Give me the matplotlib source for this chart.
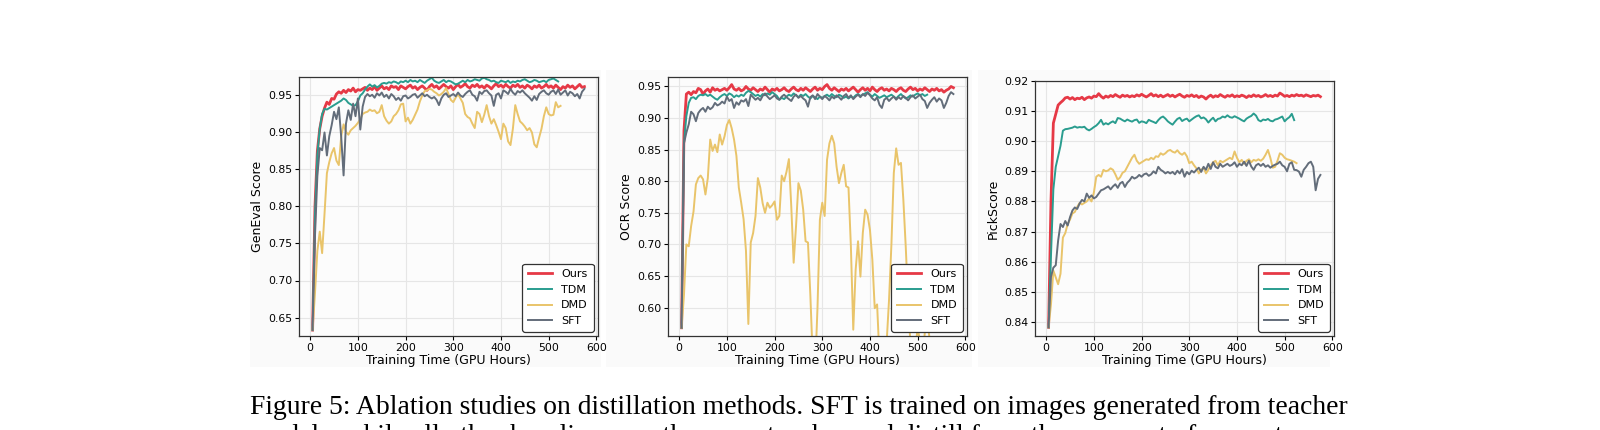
import numpy as np
import matplotlib
matplotlib.use("Agg")
import matplotlib.pyplot as plt
from matplotlib.patches import Rectangle

# training time in GPU hours (shared grid, shorter runs use the first part)
hours = list(range(5, 580, 5))

# --- GenEval ---
geneval_ours = [
    0.633, 0.800, 0.875, 0.905, 0.922, 0.933, 0.941, 0.938, 0.946, 0.945,
    0.952, 0.955, 0.953, 0.957, 0.954, 0.958, 0.956, 0.960, 0.955, 0.958,
    0.957, 0.959, 0.961, 0.957, 0.960, 0.958, 0.962, 0.957, 0.960, 0.963,
    0.959, 0.961, 0.958, 0.963, 0.961, 0.962, 0.958, 0.963, 0.961, 0.959,
    0.962, 0.964, 0.960, 0.962, 0.958, 0.961, 0.963, 0.960, 0.957, 0.962,
    0.965, 0.961, 0.963, 0.959, 0.962, 0.965, 0.962, 0.960, 0.963, 0.958,
    0.962, 0.965, 0.961, 0.963, 0.966, 0.962, 0.960, 0.964, 0.962, 0.965,
    0.961, 0.963, 0.960, 0.964, 0.962, 0.959, 0.963, 0.966, 0.962, 0.964,
    0.961, 0.965, 0.962, 0.960, 0.964, 0.962, 0.965, 0.961, 0.963, 0.960,
    0.964, 0.962, 0.959, 0.963, 0.961, 0.964, 0.960, 0.962, 0.965, 0.961,
    0.963, 0.960, 0.964, 0.961, 0.958, 0.962, 0.960, 0.964, 0.961, 0.963,
    0.959, 0.962, 0.965, 0.961, 0.962,
]
geneval_tdm = [
    0.633, 0.790, 0.870, 0.905, 0.925, 0.932, 0.931, 0.933, 0.935, 0.937,
    0.939, 0.941, 0.943, 0.946, 0.944, 0.940, 0.938, 0.936, 0.937, 0.942,
    0.950, 0.953, 0.958, 0.962, 0.965, 0.962, 0.964, 0.961, 0.963, 0.966,
    0.967, 0.966, 0.968, 0.967, 0.969, 0.968, 0.966, 0.969, 0.968, 0.970,
    0.968, 0.971, 0.969, 0.970, 0.968, 0.971, 0.969, 0.967, 0.970, 0.972,
    0.974, 0.970, 0.968, 0.967, 0.969, 0.971, 0.968, 0.970, 0.969, 0.967,
    0.965, 0.966, 0.968, 0.970, 0.968, 0.971, 0.969, 0.970, 0.972, 0.971,
    0.970, 0.973, 0.974, 0.972, 0.971, 0.969, 0.970, 0.968, 0.967, 0.970,
    0.969, 0.968, 0.970, 0.967, 0.969, 0.968, 0.970, 0.969, 0.971, 0.972,
    0.970, 0.968, 0.969, 0.971, 0.970, 0.968, 0.969, 0.970, 0.968, 0.971,
    0.972, 0.973, 0.971, 0.969,
]
geneval_dmd = [
    0.633, 0.683, 0.740, 0.766, 0.737, 0.790, 0.845, 0.860, 0.872, 0.879,
    0.862, 0.856, 0.895, 0.911, 0.901, 0.897, 0.903, 0.906, 0.909, 0.913,
    0.918, 0.925, 0.927, 0.928, 0.931, 0.929, 0.930, 0.926, 0.928, 0.937,
    0.922, 0.916, 0.912, 0.915, 0.922, 0.925, 0.930, 0.938, 0.939, 0.915,
    0.920, 0.912, 0.917, 0.924, 0.931, 0.942, 0.950, 0.956, 0.957, 0.959,
    0.958, 0.955, 0.953, 0.950, 0.952, 0.955, 0.960, 0.952, 0.944, 0.941,
    0.947, 0.952, 0.946, 0.940, 0.925, 0.921, 0.919, 0.912, 0.906, 0.928,
    0.925, 0.914, 0.924, 0.937, 0.922, 0.912, 0.918, 0.910, 0.901, 0.891,
    0.912, 0.906, 0.888, 0.883, 0.905, 0.937, 0.925, 0.915, 0.912, 0.908,
    0.903, 0.906, 0.900, 0.884, 0.880, 0.893, 0.905, 0.922, 0.934, 0.925,
    0.923, 0.924, 0.941, 0.934, 0.936,
]
geneval_sft = [
    0.633, 0.760, 0.841, 0.879, 0.876, 0.900, 0.869, 0.895, 0.910, 0.928,
    0.918, 0.934, 0.894, 0.842, 0.912, 0.930, 0.917, 0.939, 0.922, 0.946,
    0.904, 0.935, 0.948, 0.952, 0.949, 0.951, 0.947, 0.953, 0.950, 0.954,
    0.948, 0.951, 0.946, 0.952, 0.949, 0.944, 0.947, 0.943, 0.949, 0.950,
    0.946, 0.948, 0.951, 0.952, 0.947, 0.950, 0.953, 0.949, 0.951, 0.948,
    0.946, 0.948, 0.944, 0.937, 0.946, 0.951, 0.953, 0.948, 0.950, 0.952,
    0.949, 0.954, 0.950, 0.948, 0.952, 0.955, 0.957, 0.951, 0.949, 0.943,
    0.955, 0.952, 0.956, 0.957, 0.953, 0.950, 0.936, 0.951, 0.953, 0.946,
    0.957, 0.955, 0.952, 0.959, 0.954, 0.951, 0.956, 0.954, 0.957, 0.953,
    0.950, 0.947, 0.943, 0.949, 0.944, 0.952, 0.955, 0.957, 0.953, 0.951,
    0.955, 0.957, 0.952, 0.958, 0.951, 0.954, 0.957, 0.950, 0.955, 0.953,
    0.949, 0.952, 0.946, 0.955, 0.959,
]

# --- OCR ---
ocr_ours = [
    0.568, 0.880, 0.938, 0.941, 0.937, 0.942, 0.940, 0.947, 0.945, 0.938,
    0.943, 0.946, 0.941, 0.948, 0.944, 0.946, 0.943, 0.945, 0.947, 0.944,
    0.948, 0.953, 0.946, 0.944, 0.947, 0.943, 0.945, 0.950, 0.946, 0.944,
    0.948, 0.945, 0.942, 0.946, 0.944, 0.949, 0.945, 0.941, 0.946, 0.944,
    0.947, 0.943, 0.945, 0.948, 0.944, 0.942, 0.946, 0.949, 0.945, 0.943,
    0.947, 0.944, 0.948, 0.945, 0.942, 0.946, 0.949, 0.944, 0.947, 0.945,
    0.950, 0.953, 0.947, 0.944, 0.948, 0.945, 0.942, 0.946, 0.944, 0.947,
    0.943, 0.946, 0.949, 0.945, 0.941, 0.945, 0.948, 0.944, 0.947, 0.943,
    0.949, 0.945, 0.942, 0.946, 0.948, 0.944, 0.946, 0.943, 0.947, 0.945,
    0.942, 0.946, 0.948, 0.944, 0.942, 0.946, 0.949, 0.945, 0.947, 0.943,
    0.946, 0.944, 0.948, 0.945, 0.942, 0.946, 0.944, 0.947, 0.943, 0.945,
    0.941, 0.944, 0.946, 0.950, 0.948,
]
ocr_tdm = [
    0.568, 0.860, 0.903, 0.924, 0.932, 0.933, 0.930, 0.935, 0.937, 0.936,
    0.938, 0.935, 0.937, 0.934, 0.931, 0.929, 0.933, 0.936, 0.938, 0.935,
    0.939, 0.937, 0.933, 0.936, 0.934, 0.937, 0.935, 0.940, 0.943, 0.941,
    0.938, 0.935, 0.937, 0.934, 0.938, 0.936, 0.939, 0.937, 0.941, 0.938,
    0.935, 0.929, 0.932, 0.930, 0.934, 0.937, 0.935, 0.939, 0.936, 0.933,
    0.937, 0.935, 0.938, 0.934, 0.931, 0.935, 0.933, 0.930, 0.934, 0.932,
    0.935, 0.937, 0.934, 0.938, 0.935, 0.933, 0.937, 0.935, 0.932, 0.934,
    0.931, 0.934, 0.932, 0.936, 0.938, 0.935, 0.937, 0.939, 0.941, 0.937,
    0.934, 0.938, 0.935, 0.932, 0.934, 0.936, 0.933, 0.935, 0.937, 0.934,
    0.931, 0.935, 0.938, 0.934, 0.931, 0.933, 0.936, 0.934, 0.937, 0.939,
    0.936, 0.938, 0.935, 0.937,
]
ocr_dmd = [
    0.568, 0.620, 0.700, 0.697, 0.729, 0.752, 0.795, 0.805, 0.809, 0.803,
    0.779, 0.805, 0.866, 0.848, 0.858, 0.846, 0.874, 0.858, 0.871, 0.889,
    0.897, 0.884, 0.866, 0.840, 0.790, 0.766, 0.740, 0.690, 0.574, 0.703,
    0.718, 0.745, 0.805, 0.790, 0.765, 0.750, 0.766, 0.758, 0.762, 0.768,
    0.739, 0.745, 0.809, 0.800, 0.815, 0.835, 0.760, 0.671, 0.729, 0.797,
    0.785, 0.755, 0.705, 0.703, 0.620, 0.520, 0.500, 0.600, 0.739, 0.766,
    0.745, 0.834, 0.860, 0.872, 0.860, 0.823, 0.797, 0.813, 0.826, 0.792,
    0.790, 0.697, 0.565, 0.660, 0.705, 0.649, 0.718, 0.755, 0.747, 0.723,
    0.676, 0.599, 0.605, 0.520, 0.480, 0.500, 0.545, 0.612, 0.700, 0.813,
    0.852, 0.826, 0.829, 0.771, 0.697, 0.612, 0.540, 0.500, 0.530, 0.570,
    0.545, 0.520, 0.560, 0.585, 0.550,
]
ocr_sft = [
    0.568, 0.860, 0.877, 0.890, 0.910, 0.906, 0.895, 0.908, 0.913, 0.916,
    0.910, 0.918, 0.914, 0.917, 0.924, 0.920, 0.922, 0.926, 0.923, 0.934,
    0.927, 0.930, 0.916, 0.925, 0.921, 0.928, 0.926, 0.930, 0.919, 0.937,
    0.933, 0.929, 0.932, 0.928, 0.935, 0.939, 0.934, 0.930, 0.933, 0.936,
    0.931, 0.929, 0.934, 0.937, 0.933, 0.930, 0.927, 0.934, 0.937, 0.932,
    0.935, 0.931, 0.928, 0.918, 0.933, 0.936, 0.930, 0.938, 0.934, 0.930,
    0.935, 0.932, 0.928, 0.934, 0.931, 0.936, 0.933, 0.929, 0.935, 0.938,
    0.932, 0.936, 0.930, 0.934, 0.937, 0.933, 0.938, 0.935, 0.940, 0.936,
    0.931, 0.928, 0.933, 0.921, 0.916, 0.929, 0.932, 0.927, 0.931, 0.934,
    0.929, 0.933, 0.930, 0.935, 0.932, 0.928, 0.933, 0.936, 0.931, 0.934,
    0.937, 0.930, 0.927, 0.916, 0.924, 0.929, 0.933, 0.926, 0.931, 0.928,
    0.916, 0.924, 0.935, 0.941, 0.938,
]

# --- PickScore ---
pick_ours = [
    0.8382, 0.8800, 0.9060, 0.9090, 0.9120, 0.9128, 0.9135, 0.9144, 0.9146, 0.9140,
    0.9145, 0.9138, 0.9143, 0.9141, 0.9146, 0.9138, 0.9144, 0.9147, 0.9143, 0.9150,
    0.9148, 0.9158, 0.9149, 0.9143, 0.9150, 0.9146, 0.9152, 0.9148, 0.9155, 0.9150,
    0.9146, 0.9153, 0.9149, 0.9152, 0.9147, 0.9151, 0.9148, 0.9154, 0.9150, 0.9156,
    0.9151, 0.9147, 0.9152, 0.9158, 0.9150, 0.9154, 0.9148, 0.9153, 0.9147, 0.9151,
    0.9155, 0.9149, 0.9153, 0.9147, 0.9152, 0.9156, 0.9150, 0.9146, 0.9152, 0.9149,
    0.9154, 0.9148, 0.9152, 0.9145, 0.9150, 0.9147, 0.9140, 0.9148, 0.9153, 0.9146,
    0.9151, 0.9148, 0.9155, 0.9150, 0.9146, 0.9152, 0.9149, 0.9154, 0.9147, 0.9151,
    0.9148, 0.9153, 0.9150, 0.9145, 0.9151, 0.9148, 0.9154, 0.9149, 0.9152, 0.9147,
    0.9150, 0.9155, 0.9149, 0.9152, 0.9148, 0.9153, 0.9150, 0.9160, 0.9155, 0.9149,
    0.9152, 0.9148, 0.9153, 0.9150, 0.9155, 0.9151, 0.9153, 0.9149, 0.9154, 0.9151,
    0.9148, 0.9152, 0.9150, 0.9153, 0.9148,
]
pick_tdm = [
    0.8382, 0.8620, 0.8840, 0.8915, 0.8950, 0.8985, 0.9035, 0.9040, 0.9041, 0.9043,
    0.9045, 0.9049, 0.9045, 0.9047, 0.9046, 0.9048, 0.9040, 0.9036, 0.9041, 0.9047,
    0.9052, 0.9060, 0.9071, 0.9055, 0.9060, 0.9056, 0.9062, 0.9066, 0.9060, 0.9077,
    0.9075, 0.9070, 0.9066, 0.9072, 0.9068, 0.9065, 0.9070, 0.9072, 0.9061, 0.9066,
    0.9064, 0.9060, 0.9071, 0.9067, 0.9064, 0.9060, 0.9070, 0.9078, 0.9082, 0.9075,
    0.9066, 0.9060, 0.9055, 0.9065, 0.9074, 0.9078, 0.9067, 0.9072, 0.9075, 0.9066,
    0.9072, 0.9078, 0.9083, 0.9086, 0.9076, 0.9079, 0.9073, 0.9062, 0.9071, 0.9078,
    0.9066, 0.9074, 0.9076, 0.9082, 0.9079, 0.9086, 0.9080, 0.9078, 0.9083, 0.9079,
    0.9075, 0.9070, 0.9066, 0.9075, 0.9080, 0.9084, 0.9092, 0.9085, 0.9070, 0.9066,
    0.9072, 0.9070, 0.9074, 0.9068, 0.9066, 0.9072, 0.9074, 0.9078, 0.9082, 0.9066,
    0.9074, 0.9080, 0.9091, 0.9070,
]
pick_dmd = [
    0.8382, 0.8458, 0.8570, 0.8548, 0.8525, 0.8560, 0.8680, 0.8695, 0.8725, 0.8740,
    0.8760, 0.8765, 0.8782, 0.8795, 0.8790, 0.8795, 0.8800, 0.8810, 0.8800, 0.8830,
    0.8882, 0.8888, 0.8882, 0.8905, 0.8900, 0.8903, 0.8910, 0.8905, 0.8890, 0.8872,
    0.8880, 0.8895, 0.8900, 0.8915, 0.8930, 0.8945, 0.8955, 0.8935, 0.8925, 0.8930,
    0.8935, 0.8940, 0.8938, 0.8945, 0.8940, 0.8950, 0.8948, 0.8960, 0.8955, 0.8960,
    0.8968, 0.8971, 0.8965, 0.8962, 0.8970, 0.8960, 0.8955, 0.8962, 0.8950, 0.8927,
    0.8932, 0.8920, 0.8910, 0.8893, 0.8905, 0.8912, 0.8893, 0.8905, 0.8920, 0.8930,
    0.8935, 0.8920, 0.8935, 0.8930, 0.8935, 0.8940, 0.8945, 0.8940, 0.8966, 0.8945,
    0.8930, 0.8938, 0.8925, 0.8935, 0.8940, 0.8930, 0.8938, 0.8935, 0.8940, 0.8935,
    0.8942, 0.8955, 0.8971, 0.8945, 0.8912, 0.8915, 0.8935, 0.8960, 0.8955, 0.8945,
    0.8940, 0.8938, 0.8935, 0.8932, 0.8927,
]
pick_sft = [
    0.8382, 0.8550, 0.8580, 0.8588, 0.8670, 0.8725, 0.8715, 0.8735, 0.8720, 0.8748,
    0.8770, 0.8780, 0.8775, 0.8793, 0.8805, 0.8800, 0.8826, 0.8812, 0.8820, 0.8810,
    0.8815, 0.8826, 0.8837, 0.8840, 0.8845, 0.8850, 0.8840, 0.8850, 0.8857, 0.8845,
    0.8860, 0.8865, 0.8848, 0.8862, 0.8870, 0.8882, 0.8876, 0.8880, 0.8888, 0.8882,
    0.8890, 0.8893, 0.8885, 0.8890, 0.8900, 0.8893, 0.8915, 0.8905, 0.8900, 0.8893,
    0.8898, 0.8893, 0.8898, 0.8890, 0.8902, 0.8893, 0.8907, 0.8882, 0.8898, 0.8890,
    0.8902, 0.8896, 0.8905, 0.8912, 0.8898, 0.8915, 0.8905, 0.8925, 0.8908, 0.8930,
    0.8915, 0.8910, 0.8925, 0.8915, 0.8920, 0.8925, 0.8918, 0.8922, 0.8930, 0.8915,
    0.8925, 0.8920, 0.8932, 0.8918, 0.8935, 0.8916, 0.8905, 0.8920, 0.8925, 0.8918,
    0.8925, 0.8915, 0.8920, 0.8912, 0.8918, 0.8922, 0.8925, 0.8932, 0.8920, 0.8915,
    0.8900, 0.8925, 0.8930, 0.8905, 0.8904, 0.8899, 0.8882, 0.8905, 0.8915, 0.8927,
    0.8932, 0.8915, 0.8837, 0.8875, 0.8888,
]

methods = ["Ours", "TDM", "DMD", "SFT"]
colors = {"Ours": "#e63946", "TDM": "#2a9d8f", "DMD": "#e9c46a", "SFT": "#636d7a"}
widths = {"Ours": 2.0, "TDM": 1.4, "DMD": 1.4, "SFT": 1.4}

panels = [
    ("GenEval Score", [geneval_ours, geneval_tdm, geneval_dmd, geneval_sft],
     (0.625, 0.975), np.arange(0.65, 0.951, 0.05)),
    ("OCR Score", [ocr_ours, ocr_tdm, ocr_dmd, ocr_sft],
     (0.555, 0.965), np.arange(0.60, 0.951, 0.05)),
    ("PickScore", [pick_ours, pick_tdm, pick_dmd, pick_sft],
     (0.8353, 0.92), np.arange(0.84, 0.9201, 0.01)),
]

W, H = 1600, 430
fig = plt.figure(figsize=(W / 100, H / 100), dpi=100)
fig.patch.set_facecolor("white")

# light backdrop of the embedded plots (kept behind the axes)
for x0, x1 in [(250, 601), (606, 972), (978, 1330)]:
    fig.add_artist(Rectangle((x0 / W, 1 - 367 / H), (x1 - x0) / W, (367 - 70) / H,
                             transform=fig.transFigure, facecolor="#fafafa",
                             edgecolor="none", zorder=-10))

boxes = [(299, 77, 598, 336), (668, 77, 967, 336), (1035, 81, 1334, 336)]
for (ylabel, series, ylim, yticks), (l, t, r, b) in zip(panels, boxes):
    ax = fig.add_axes([l / W, 1 - b / H, (r - l) / W, (b - t) / H])
    ax.set_facecolor("#fcfcfc")
    for name, vals in zip(methods, series):
        ax.plot(hours[:len(vals)], vals, color=colors[name], lw=widths[name], label=name)
    ax.set_ylim(*ylim)
    ax.set_yticks(yticks)
    ax.set_yticklabels([f"{v:.2f}" for v in yticks])
    ax.set_xticks(range(0, 601, 100))
    ax.set_xlabel("Training Time (GPU Hours)", fontsize=9, labelpad=1)
    ax.set_ylabel(ylabel, fontsize=9, labelpad=3)
    ax.tick_params(labelsize=7.8, length=3, pad=2)
    ax.grid(color="#e6e6e6", lw=0.8)
    ax.set_axisbelow(True)
    for sp in ax.spines.values():
        sp.set_color("#333333")
        sp.set_linewidth(0.9)
    leg = ax.legend(loc="lower right", fontsize=8, framealpha=1, fancybox=True,
                    handlelength=2.2, borderpad=0.5, labelspacing=0.5,
                    borderaxespad=0.4)
    leg.get_frame().set_edgecolor("#333333")
    leg.get_frame().set_linewidth(0.9)

fig.text(250 / W, 1 - 407 / H,
         "Figure 5: Ablation studies on distillation methods. SFT is trained on images generated from teacher",
         fontsize=19.9, family="Liberation Serif", va="center", ha="left")
# the next caption line is cut by the bottom edge, only its top shows
fig.text(250 / W, 1 - 424 / H,
         "models, while all other baselines use the same teacher and distill from the same set of prompts",
         fontsize=19.9, family="Liberation Serif", va="top", ha="left")

fig.savefig("out.png", dpi=100)
